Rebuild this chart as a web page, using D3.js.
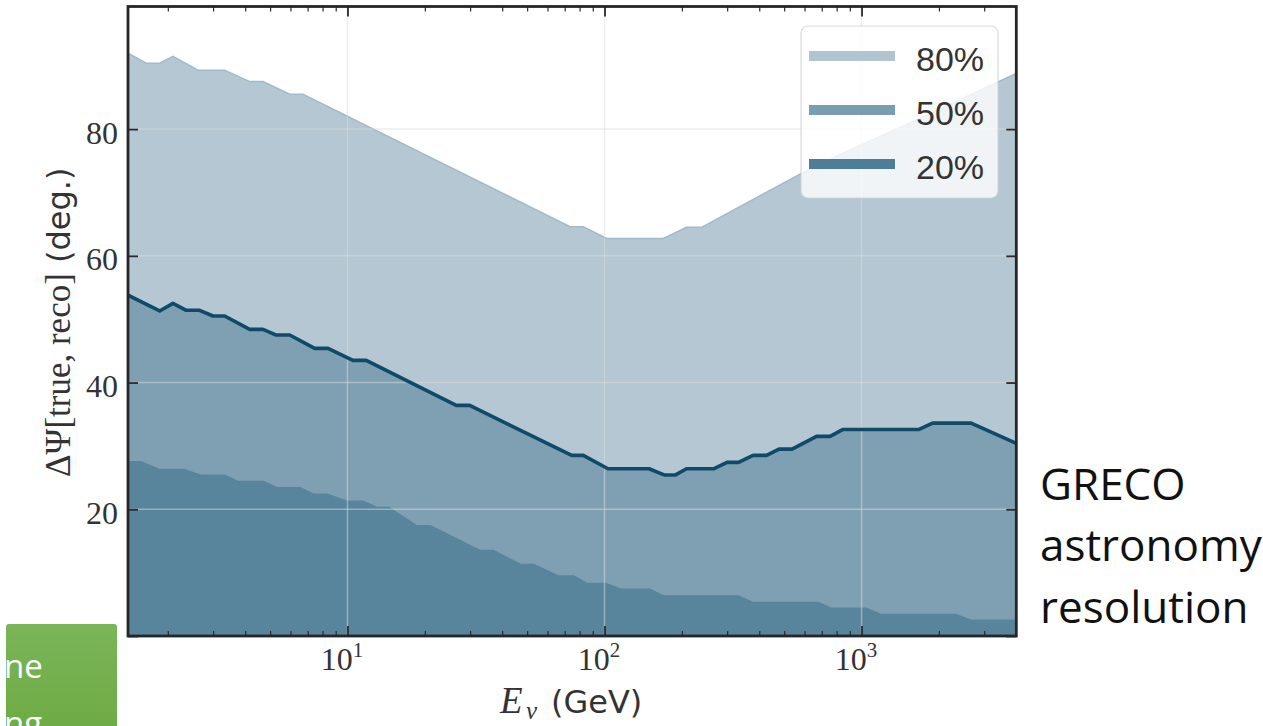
<!DOCTYPE html>
<html>
<head>
<meta charset="utf-8">
<script src="https://cdn.jsdelivr.net/npm/d3@7"></script>
<style>
  html, body { margin: 0; padding: 0; background: #fff; }
  svg { display: block; }
</style>
</head>
<body>
<svg id="chart" width="1263" height="726"></svg>
<script>
// Opening-angle quantiles ΔΨ between true and reconstructed direction, vs neutrino energy (GeV)
const energy80 = [1.40, 1.649, 1.859, 2.094, 2.620, 3.328, 4.164, 4.691, 5.960, 6.712, 73.4, 82.7, 102.0, 169.3, 208.5, 238.5, 576.5, 824.8, 1689, 3458, 4000];
const psi80    = [92.0, 90.4, 90.4, 91.5, 89.3, 89.3, 87.5, 87.5, 85.5, 85.5, 64.6, 64.6, 62.75, 62.75, 64.5, 64.5, 72.9, 76.0, 81.7, 87.6, 88.8];

const energy50 = [1.40, 1.859, 2.094, 2.359, 2.660, 2.998, 3.328, 4.164, 4.691, 5.284, 5.960, 7.456, 8.399, 10.50, 11.83, 26.50, 29.89, 74.56, 82.7, 103.2, 149.0, 171.5, 188.1, 208.5, 266.8, 299.8, 332.2, 378.3, 427.0, 477.5, 536.6, 668.3, 754.2, 847.3, 1674, 1889, 2668, 4000];
const psi50    = [53.8, 51.3, 52.5, 51.4, 51.4, 50.5, 50.5, 48.4, 48.4, 47.5, 47.5, 45.4, 45.4, 43.5, 43.5, 36.4, 36.4, 28.5, 28.5, 26.4, 26.4, 25.4, 25.4, 26.4, 26.4, 27.4, 27.4, 28.5, 28.5, 29.5, 29.5, 31.5, 31.5, 32.6, 32.6, 33.6, 33.6, 30.4];

const energy20 = [1.40, 1.572, 1.855, 2.311, 2.692, 3.337, 3.759, 4.720, 5.341, 6.564, 7.375, 8.324, 10.0, 11.52, 13.02, 14.50, 18.64, 21.04, 32.80, 36.99, 47.33, 53.19, 66.22, 76.08, 85.51, 101.3, 115.9, 150.3, 169.7, 332.2, 378.3, 680.4, 760.8, 1041, 1191, 2332, 2668, 4000];
const psi20    = [27.6, 27.6, 26.4, 26.4, 25.5, 25.5, 24.5, 24.5, 23.5, 23.5, 22.5, 22.5, 21.4, 21.4, 20.4, 20.4, 17.5, 17.5, 13.6, 13.6, 11.4, 11.4, 9.6, 9.6, 8.4, 8.4, 7.5, 7.5, 6.45, 6.45, 5.4, 5.4, 4.5, 4.5, 3.5, 3.5, 2.6, 2.6];

const yTicks = [0, 20, 40, 60, 80];
const xDecades = [10, 100, 1000];
const xExponents = ["1", "2", "3"];
const legendLabels = ["80%", "50%", "20%"];
const sideNote = ["GRECO", "astronomy", "resolution"];
const slideFragment = ["ne", "ng"];

const svg = d3.select("#chart");
const plot = { left: 128, right: 1016.3, top: 6.5, bottom: 636 };

const x = d3.scaleLog().domain([1.4, 4000]).range([plot.left, plot.right]);
const y = d3.scaleLinear().domain([0, 99.35]).range([plot.bottom, plot.top]);

const defs = svg.append("defs");
defs.append("clipPath").attr("id", "plotClip")
  .append("rect")
  .attr("x", plot.left).attr("y", plot.top)
  .attr("width", plot.right - plot.left).attr("height", plot.bottom - plot.top);

const grad = defs.append("linearGradient").attr("id", "greenGrad")
  .attr("x1", 0).attr("y1", 0).attr("x2", 0).attr("y2", 1);
grad.append("stop").attr("offset", "0%").attr("stop-color", "#7ab558");
grad.append("stop").attr("offset", "100%").attr("stop-color", "#6dab43");

defs.append("clipPath").attr("id", "greenClip")
  .append("rect").attr("x", 6).attr("y", 624).attr("width", 111).attr("height", 110);

const zip = (es, vs) => es.map((e, i) => ({ e, v: vs[i] }));
const series = [
  { data: zip(energy80, psi80), fill: "#b4c7d3", legend: "#b1c5d1" },
  { data: zip(energy50, psi50), fill: "#7fa0b3", legend: "#7a9db1" },
  { data: zip(energy20, psi20), fill: "#58849c", legend: "#4d7d98" }
];

const area = d3.area().x(d => x(d.e)).y0(y(0)).y1(d => y(d.v));
const line = d3.line().x(d => x(d.e)).y(d => y(d.v));

const g = svg.append("g").attr("clip-path", "url(#plotClip)");

series.forEach(s => {
  g.append("path").datum(s.data).attr("d", area).attr("fill", s.fill);
});
// soft edge on the outer band
g.append("path").datum(series[0].data).attr("d", line)
  .attr("fill", "none").attr("stroke", "#a3bac8").attr("stroke-width", 1.5);

// grid
g.selectAll("line.vgrid").data(xDecades).join("line").attr("class", "vgrid")
  .attr("x1", d => x(d)).attr("x2", d => x(d))
  .attr("y1", plot.top).attr("y2", plot.bottom)
  .attr("stroke", "#dcdcdc").attr("stroke-opacity", 0.5).attr("stroke-width", 1.5);
g.selectAll("line.hgrid").data(yTicks.filter(t => t > 0)).join("line").attr("class", "hgrid")
  .attr("y1", d => y(d)).attr("y2", d => y(d))
  .attr("x1", plot.left).attr("x2", plot.right)
  .attr("stroke", "#dcdcdc").attr("stroke-opacity", 0.5).attr("stroke-width", 1.5);

// median outline
g.append("path").datum(series[1].data).attr("d", line)
  .attr("fill", "none").attr("stroke", "#0f4b69").attr("stroke-width", 3.6)
  .attr("stroke-linejoin", "round");

// minor tick positions
const minors = [];
[1, 10, 100, 1000].forEach(d => {
  for (let k = 2; k <= 9; k++) {
    const v = k * d;
    if (v > 1.4 && v < 4000) minors.push(v);
  }
});

const tickColor = "#2a2a2a";
function styleAxis(sel, width) {
  sel.select(".domain").remove();
  sel.selectAll(".tick line").attr("stroke", tickColor).attr("stroke-width", width);
}

// x axes (ticks point inward)
svg.append("g").attr("transform", `translate(0,${plot.bottom})`)
  .call(d3.axisBottom(x).tickValues(minors).tickSize(-5).tickFormat(""))
  .call(s => styleAxis(s, 1.2));
svg.append("g").attr("transform", `translate(0,${plot.top})`)
  .call(d3.axisTop(x).tickValues(minors).tickSize(-5).tickFormat(""))
  .call(s => styleAxis(s, 1.2));
const xBottom = svg.append("g").attr("transform", `translate(0,${plot.bottom})`)
  .call(d3.axisBottom(x).tickValues(xDecades).tickSize(-10).tickFormat(""))
  .call(s => styleAxis(s, 1.8));
svg.append("g").attr("transform", `translate(0,${plot.top})`)
  .call(d3.axisTop(x).tickValues(xDecades).tickSize(-10).tickFormat(""))
  .call(s => styleAxis(s, 1.8));

xBottom.selectAll(".tick").each(function(d, i) {
  const t = d3.select(this).append("text")
    .attr("y", 34).attr("text-anchor", "middle")
    .attr("fill", "#333")
    .style("font-family", "'Liberation Serif', serif")
    .style("font-size", "32px");
  t.append("tspan").attr("dx", "-6").text("10");
  t.append("tspan").attr("dy", -13).style("font-size", "21px").text(xExponents[i]);
});

// y axes
const yLeft = svg.append("g").attr("transform", `translate(${plot.left},0)`)
  .call(d3.axisLeft(y).tickValues(yTicks).tickSize(-10).tickPadding(10).tickFormat(d3.format("d")))
  .call(s => styleAxis(s, 1.8));
yLeft.selectAll(".tick text")
  .attr("dy", "0.44em")
  .attr("fill", "#333")
  .style("font-family", "'Liberation Serif', serif")
  .style("font-size", "32px");
svg.append("g").attr("transform", `translate(${plot.right},0)`)
  .call(d3.axisRight(y).tickValues(yTicks).tickSize(-10).tickFormat(""))
  .call(s => styleAxis(s, 1.8));

// frame
svg.append("rect")
  .attr("x", plot.left).attr("y", plot.top)
  .attr("width", plot.right - plot.left).attr("height", plot.bottom - plot.top)
  .attr("fill", "none").attr("stroke", "#262626").attr("stroke-width", 2.8);

// y label
const ylab = svg.append("text")
  .attr("transform", `translate(70,${(plot.top + plot.bottom) / 2 + 1}) rotate(-90)`)
  .attr("text-anchor", "middle").attr("fill", "#333");
ylab.append("tspan").style("font-family", "'Liberation Serif', serif").style("font-size", "35px").text("ΔΨ[true, reco]");
ylab.append("tspan").style("font-family", "'DejaVu Sans', sans-serif").style("font-size", "32px").text(" (deg.)");

// x label
const xlab = svg.append("text").attr("fill", "#333");
xlab.append("tspan").attr("x", 500).attr("y", 713)
  .style("font-family", "'Liberation Serif', serif").style("font-style", "italic").style("font-size", "37px").text("E");
xlab.append("tspan").attr("x", 526).attr("y", 719)
  .style("font-family", "'Liberation Serif', serif").style("font-style", "italic").style("font-size", "25px").text("ν");
xlab.append("tspan").attr("x", 551).attr("y", 713)
  .style("font-family", "'DejaVu Sans', sans-serif").style("font-size", "32px").text("(GeV)");

// legend
const leg = svg.append("g");
leg.append("rect").attr("x", 801).attr("y", 26).attr("width", 197).attr("height", 172).attr("rx", 7)
  .attr("fill", "#ffffff").attr("fill-opacity", 0.8)
  .attr("stroke", "#cfcfcf").attr("stroke-opacity", 0.8).attr("stroke-width", 1.2);
const rowY = d3.scalePoint().domain(legendLabels).range([56, 164]);
legendLabels.forEach((lab, i) => {
  leg.append("line").attr("x1", 809).attr("x2", 895)
    .attr("y1", rowY(lab)).attr("y2", rowY(lab))
    .attr("stroke", series[i].legend).attr("stroke-width", 10);
  leg.append("text").attr("x", 916).attr("y", rowY(lab) + 15)
    .attr("fill", "#333")
    .style("font-family", "'Liberation Sans', sans-serif").style("font-size", "34px")
    .text(lab);
});

// side note
svg.append("g").selectAll("text").data(sideNote).join("text")
  .attr("x", 1040).attr("y", (d, i) => [500, 561, 623][i])
  .attr("fill", "#111")
  .style("font-family", "'Open Sans', sans-serif").style("font-size", "44px")
  .text(d => d);

// slide fragment in the lower-left corner
svg.append("rect").attr("x", 6).attr("y", 624).attr("width", 111).attr("height", 110).attr("rx", 3)
  .attr("fill", "url(#greenGrad)");
svg.append("g").attr("clip-path", "url(#greenClip)")
  .selectAll("text").data(slideFragment).join("text")
  .attr("x", 4).attr("y", (d, i) => 678 + i * 57)
  .attr("fill", "#ffffff")
  .style("font-family", "'Open Sans', sans-serif").style("font-size", "33px")
  .text(d => d);
</script>
</body>
</html>
